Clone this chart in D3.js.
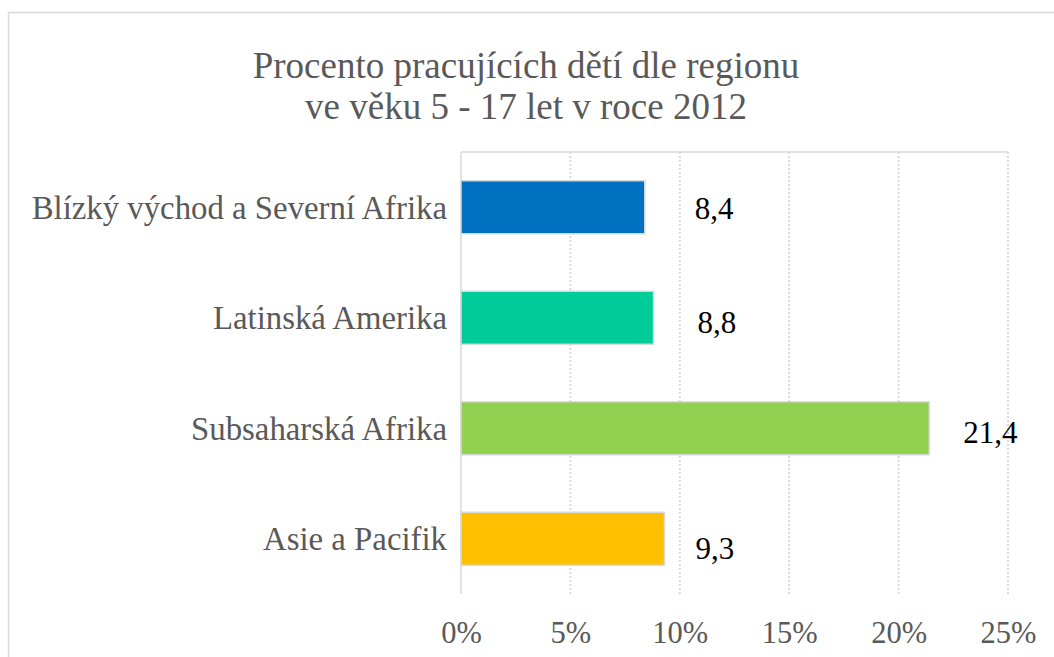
<!DOCTYPE html>
<html>
<head>
<meta charset="utf-8">
<script src="https://cdn.jsdelivr.net/npm/d3@7"></script>
<style>
  body { margin: 0; background: #fff; }
</style>
</head>
<body>
<script>
// data
var regions = ["Blízký východ a Severní Afrika", "Latinská Amerika", "Subsaharská Afrika", "Asie a Pacifik"];
var values = [8.4, 8.8, 21.4, 9.3];
var barColors = ["#0070C0", "#00CC99", "#92D050", "#FFC000"];
var tickValues = [0, 5, 10, 15, 20, 25];
var titleLines = ["Procento pracujících dětí dle regionu", "ve věku 5 - 17 let v roce 2012"];

var serif = "'Liberation Serif', 'Times New Roman', serif";

function init() {
    var w = 1054;
    var h = 657;

    var svg = d3.select("body")
        .append("svg")
        .attr("width", w)
        .attr("height", h);

    // chart frame (runs off the right and bottom edge)
    svg.append("rect")
        .attr("x", 8.5)
        .attr("y", 12.5)
        .attr("width", 1100)
        .attr("height", 700)
        .attr("fill", "#fff")
        .attr("stroke", "#d9d9d9")
        .attr("stroke-width", 1.5);

    var left = 461, right = 1008, top = 152, bottom = 594;

    var x = d3.scaleLinear().domain([0, 25]).range([left, right]);
    var y = d3.scaleBand()
        .domain(regions)
        .range([top, bottom])
        .paddingInner(0.52)
        .paddingOuter(0.26);

    // title
    svg.append("text")
        .attr("x", 526)
        .attr("y", 78)
        .attr("text-anchor", "middle")
        .attr("fill", "#595959")
        .style("font-family", serif)
        .style("font-size", "37px")
        .selectAll("tspan")
        .data(titleLines)
        .enter()
        .append("tspan")
        .attr("x", 526)
        .attr("dy", (d, i) => i === 0 ? 0 : 41)
        .text(d => d);

    // dotted gridlines
    svg.selectAll("line.grid")
        .data(tickValues.slice(1))
        .enter()
        .append("line")
        .attr("class", "grid")
        .attr("x1", d => x(d))
        .attr("x2", d => x(d))
        .attr("y1", top)
        .attr("y2", bottom)
        .attr("stroke", "#d9d9d9")
        .attr("stroke-width", 2)
        .attr("stroke-dasharray", "2,2");

    // top border of plot area
    svg.append("line")
        .attr("x1", left).attr("x2", right)
        .attr("y1", top).attr("y2", top)
        .attr("stroke", "#d9d9d9")
        .attr("stroke-width", 1.5);

    // vertical axis line
    svg.append("line")
        .attr("x1", left).attr("x2", left)
        .attr("y1", top).attr("y2", bottom)
        .attr("stroke", "#d9d9d9")
        .attr("stroke-width", 1.5);

    // bars
    svg.selectAll("rect.bar")
        .data(values)
        .enter()
        .append("rect")
        .attr("class", "bar")
        .attr("x", x(0))
        .attr("y", (d, i) => y(regions[i]))
        .attr("width", d => x(d) - x(0))
        .attr("height", y.bandwidth())
        .attr("fill", (d, i) => barColors[i])
        .attr("stroke", "#d9d9d9")
        .attr("stroke-width", 1.5);

    // category labels
    svg.selectAll("text.cat")
        .data(regions)
        .enter()
        .append("text")
        .attr("class", "cat")
        .attr("x", 447)
        .attr("y", d => y(d) + y.bandwidth() / 2)
        .attr("dy", "0.35em")
        .attr("text-anchor", "end")
        .attr("fill", "#595959")
        .style("font-family", serif)
        .style("font-size", "32.8px")
        .text(d => d);

    // value labels (manually nudged like in the original)
    var nudgeX = [50, 44, 34, 31];
    var nudgeY = [1, 4.5, 4, 9.5];
    svg.selectAll("text.val")
        .data(values)
        .enter()
        .append("text")
        .attr("class", "val")
        .attr("x", (d, i) => x(d) + nudgeX[i])
        .attr("y", (d, i) => y(regions[i]) + y.bandwidth() / 2 + nudgeY[i])
        .attr("dy", "0.35em")
        .attr("fill", "#000")
        .style("font-family", serif)
        .style("font-size", "31px")
        .text(d => d.toFixed(1).replace(".", ","));

    // x axis tick labels
    var axis = d3.axisBottom(x)
        .tickValues(tickValues)
        .tickSize(0)
        .tickPadding(0)
        .tickFormat(d => d + "%");

    var gx = svg.append("g")
        .attr("transform", "translate(0," + 643 + ")")
        .call(axis);
    gx.select(".domain").remove();
    gx.selectAll("text")
        .attr("fill", "#595959")
        .attr("dy", 0)
        .style("font-size", "30.5px")
        .style("font-family", serif);
}

window.onload = init;
</script>
</body>
</html>
